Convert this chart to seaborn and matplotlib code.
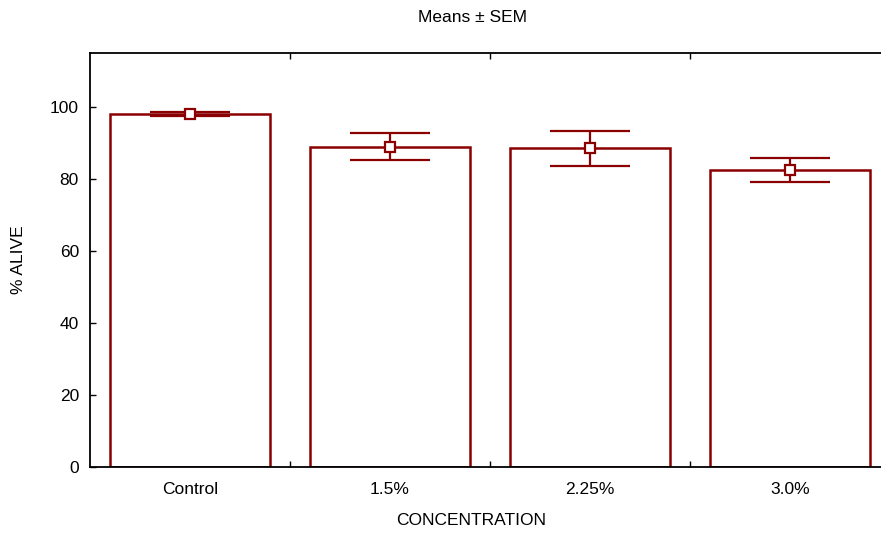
import matplotlib
matplotlib.use("Agg")
import matplotlib.pyplot as plt
import seaborn as sns
import pandas as pd

categories = ["Control", "1.5%", "2.25%", "3.0%"]
means = [98.0, 89.0, 88.5, 82.5]
sems = [0.55, 3.7, 4.8, 3.4]

sns.set_style("ticks")
plt.rcParams['font.family'] = ['Liberation Sans', 'DejaVu Sans']
plt.rcParams['text.color'] = 'black'
plt.rcParams['xtick.color'] = 'black'
plt.rcParams['ytick.color'] = 'black'
plt.rcParams['axes.labelcolor'] = 'black'

color = "#8b0000"
fs = 12.5
df = pd.DataFrame({"CONCENTRATION": categories, "ALIVE": means})

fig = plt.figure(figsize=(8.81, 5.37), dpi=100)
ax = fig.add_axes([90/881, 1-467/537, 800/881, (467-53)/537])

sns.barplot(data=df, x="CONCENTRATION", y="ALIVE", ax=ax, width=0.8,
            color="white", edgecolor=color, linewidth=1.8, errorbar=None)
ax.errorbar(range(len(categories)), means, yerr=sems, fmt="s", color=color,
            mfc="white", mec=color, ms=7, mew=1.6, elinewidth=1.6,
            capsize=29, capthick=1.8, zorder=5)

ax.set_xlim(-0.5, 3.5)
ax.set_ylim(0, 115)
ax.set_yticks([0, 20, 40, 60, 80, 100])
ax.set_xticks(range(len(categories)))
ax.set_xticklabels(categories)
ax.set_xticks([0.5, 1.5, 2.5], minor=True)
ax.tick_params(axis="x", which="major", length=0, labelsize=fs, pad=11)
ax.tick_params(axis="x", which="minor", direction="in", length=4, width=1,
               top=True, bottom=True)
ax.tick_params(axis="y", which="major", direction="in", length=4, width=1,
               labelsize=fs, pad=8)
for s in ["left", "top", "bottom"]:
    ax.spines[s].set_visible(True)
    ax.spines[s].set_linewidth(1.3)
    ax.spines[s].set_color("black")
ax.spines["right"].set_visible(False)

ax.set_xlabel("CONCENTRATION", fontsize=fs)
ax.xaxis.set_label_coords((471-90)/800, -(513-467)/414)
ax.set_ylabel("% ALIVE", fontsize=fs)
ax.yaxis.set_label_coords((26-90)/800, 0.5)
fig.text(473/881, 1-18/537, "Means ± SEM", ha="center", va="center", fontsize=fs)

fig.savefig("out.png", dpi=100)
